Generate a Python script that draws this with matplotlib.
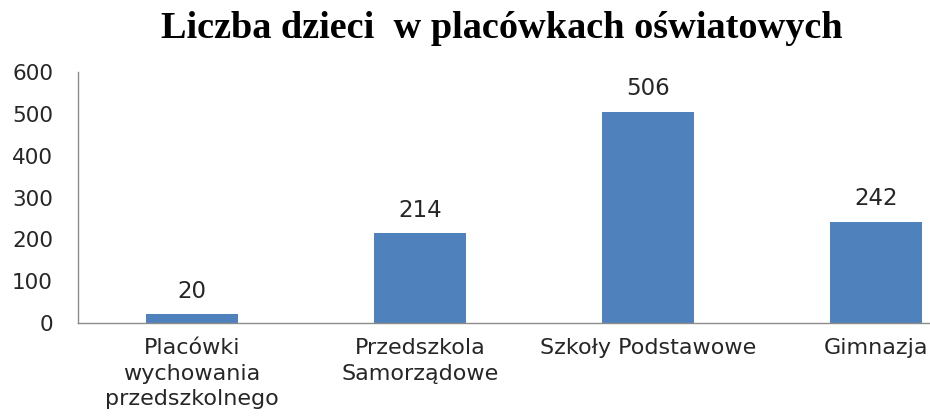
import matplotlib
matplotlib.use("Agg")
import matplotlib.pyplot as plt

categories = ["Placówki\nwychowania\nprzedszkolnego", "Przedszkola\nSamorządowe",
              "Szkoły Podstawowe", "Gimnazja"]
values = [20, 214, 506, 242]
yticks = [0, 100, 200, 300, 400, 500, 600]
title = "Liczba dzieci  w placówkach oświatowych"

W, H = 930, 419
fig = plt.figure(figsize=(W / 100, H / 100), dpi=100)
left = 78 / W
right = 990 / W
bottom = (H - 322.5) / H
top = (H - 72.5) / H
ax = fig.add_axes([left, bottom, right - left, top - bottom])

x = list(range(len(categories)))
bars = ax.bar(x, values, width=0.4, color="#4F81BD", zorder=2)
ax.set_xlim(-0.5, 3.5)
ax.set_ylim(0, 600)
ax.set_yticks(yticks)
ax.set_yticklabels([str(v) for v in yticks], fontsize=15.5, color="#262626")
ax.set_xticks(x)
ax.set_xticklabels(categories, fontsize=16, color="#262626", linespacing=1.36)
ax.tick_params(axis="y", length=0, pad=18)
ax.tick_params(axis="x", length=0, pad=11)

for s in ["top", "right"]:
    ax.spines[s].set_visible(False)
for s in ["left", "bottom"]:
    ax.spines[s].set_color("#8c8c8c")
    ax.spines[s].set_linewidth(1.0)

for xi, v in zip(x, values):
    ax.annotate(str(v), (xi, v), xytext=(0, 16.5), textcoords="offset points",
                ha="center", va="center", fontsize=16.5, color="#262626")

fig.text(502 / W, 1 - 37.5 / H, title, ha="center", va="baseline",
         fontsize=27.5, fontweight="bold", family="Liberation Serif", color="black")

fig.savefig("out.png", dpi=100)
